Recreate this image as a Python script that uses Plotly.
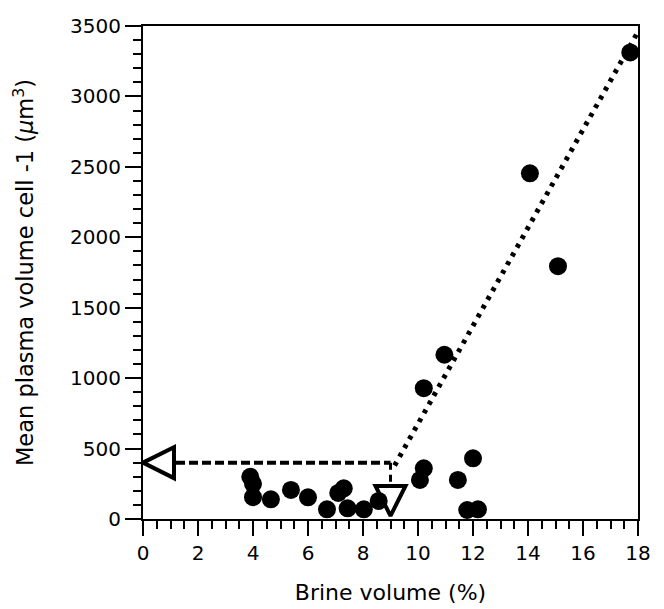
import plotly.graph_objects as go

# Data
brine_volume = [3.9, 4.0, 4.0, 4.65, 5.38, 6.0, 6.69, 7.1, 7.3, 7.44, 8.03, 8.57,
                10.07, 10.21, 10.21, 10.96, 11.45, 11.79, 12.0, 12.18, 14.07, 15.09, 17.72]
plasma_volume = [300, 250, 155, 140, 206, 154, 69, 185, 218, 76, 69, 128,
                 277, 360, 929, 1166, 277, 64, 431, 69, 2454, 1795, 3312]

# Regression (dotted) line end points
fit_x = [9.15, 18.0]
fit_y = [380, 3460]

# Threshold construction
threshold_x = 9.0
threshold_y = 400
hline_x = [1.2, 9.0]
vline_y = [400, 256]
down_arrow_y = 22

fig = go.Figure()

fig.add_trace(go.Scatter(x=fit_x, y=fit_y, mode="lines",
                         line=dict(color="black", width=5, dash="4px,6px"),
                         hoverinfo="skip"))
fig.add_trace(go.Scatter(x=hline_x, y=[threshold_y, threshold_y], mode="lines",
                         line=dict(color="black", width=4, dash="9px,4px"),
                         hoverinfo="skip"))
fig.add_trace(go.Scatter(x=[threshold_x, threshold_x], y=vline_y, mode="lines",
                         line=dict(color="black", width=3, dash="7px,5px"),
                         hoverinfo="skip"))
fig.add_trace(go.Scatter(x=brine_volume, y=plasma_volume, mode="markers",
                         marker=dict(color="black", size=18, line=dict(width=0)),
                         cliponaxis=False))
fig.add_trace(go.Scatter(x=[0], y=[threshold_y], mode="markers",
                         marker=dict(symbol="arrow-left-open", size=31, color="black",
                                     line=dict(width=4, color="black")),
                         cliponaxis=False))
fig.add_trace(go.Scatter(x=[threshold_x], y=[down_arrow_y], mode="markers",
                         marker=dict(symbol="arrow-down-open", size=30, color="black",
                                     line=dict(width=4, color="black")),
                         cliponaxis=False))

font_family = "DejaVu Sans, Liberation Sans, Arial, sans-serif"

# note: the page body has an 8px default margin, margins below compensate for it
fig.update_layout(
    width=664, height=609,
    margin=dict(l=135, r=34, t=18, b=98),
    paper_bgcolor="white", plot_bgcolor="white",
    showlegend=False,
    font=dict(family=font_family, color="black", size=20),
    xaxis=dict(
        range=[0, 18], dtick=2, tick0=0, automargin=False,
        showline=True, linecolor="black", linewidth=2, mirror=True,
        ticks="outside", ticklen=15, tickwidth=2, tickcolor="black",
        minor=dict(dtick=0.5, ticks="outside", ticklen=8, tickwidth=2, tickcolor="black"),
        showgrid=False, zeroline=False,
        tickfont=dict(family=font_family, size=20),
        title=dict(text="Brine volume (%)", font=dict(family=font_family, size=22), standoff=21),
    ),
    yaxis=dict(
        range=[0, 3500], dtick=500, tick0=0, automargin=False,
        showline=True, linecolor="black", linewidth=2, mirror=True,
        ticks="outside", ticklen=16, tickwidth=2, tickcolor="black",
        minor=dict(dtick=100, ticks="outside", ticklen=8, tickwidth=2, tickcolor="black"),
        showgrid=False, zeroline=False,
        tickfont=dict(family=font_family, size=20),
        title=dict(text="Mean plasma volume cell -1 (<i>μ</i>m<sup>3</sup>)",
                   font=dict(family=font_family, size=22.5), standoff=30),
    ),
)

fig.write_html("out.html")
